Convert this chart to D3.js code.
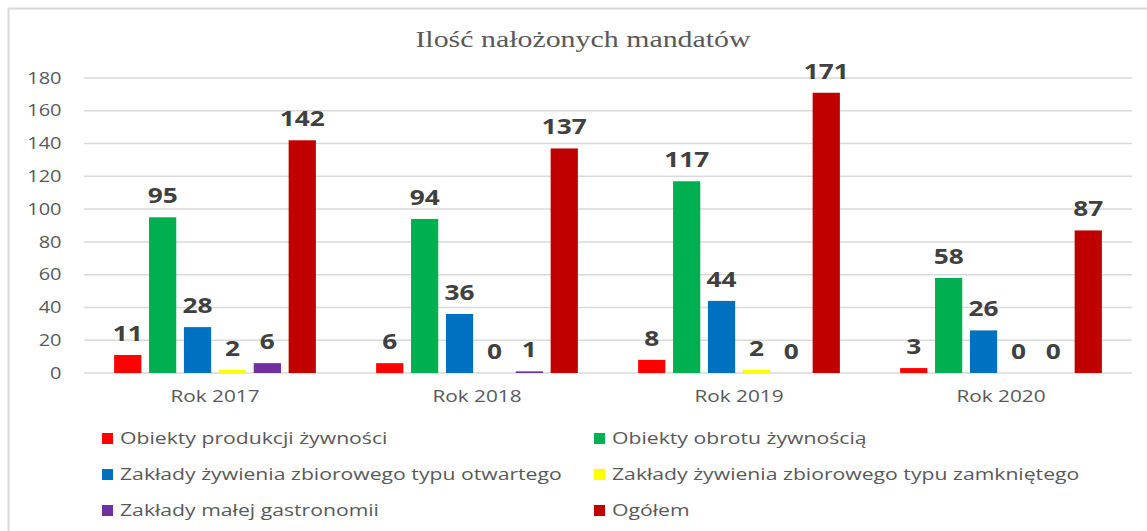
<!DOCTYPE html>
<html>
<head>
<meta charset="utf-8">
<script src="https://cdn.jsdelivr.net/npm/d3@7"></script>
<style>
  body { margin: 0; background: #fff; }
  .tick text { font-family: "Open Sans", sans-serif; font-size: 16px; fill: #595959; }
</style>
</head>
<body>
<div id="chart"></div>
<script>
const years = ['Rok 2017', 'Rok 2018', 'Rok 2019', 'Rok 2020']
const seriesNames = [
  'Obiekty produkcji żywności',
  'Obiekty obrotu żywnością',
  'Zakłady żywienia zbiorowego typu otwartego',
  'Zakłady żywienia zbiorowego typu zamkniętego',
  'Zakłady małej gastronomii',
  'Ogółem',
]
const colors = ['#ff0000', '#00b050', '#0070c0', '#ffff00', '#7030a0', '#c00000']
const produkcja = [11, 6, 8, 3]
const obrot = [95, 94, 117, 58]
const otwarte = [28, 36, 44, 26]
const zamkniete = [2, 0, 2, 0]
const gastronomia = [6, 1, 0, 0]
const ogolem = [142, 137, 171, 87]
const yTicks = [0, 20, 40, 60, 80, 100, 120, 140, 160, 180]

const seriesValues = [produkcja, obrot, otwarte, zamkniete, gastronomia, ogolem]

const width = 1147
const height = 531
const margin = { top: 78, right: 15, bottom: 158, left: 84 }
const innerW = width - margin.left - margin.right
const innerH = height - margin.top - margin.bottom
// the source picture is stretched sideways, so text gets a horizontal scale
const stretch = 1.3

const svg = d3.select('#chart').append('svg').attr('width', width).attr('height', height)

// frame
svg.append('rect')
  .attr('x', 8.5).attr('y', 8.5)
  .attr('width', width).attr('height', height)
  .attr('fill', 'none').attr('stroke', '#d9d9d9').attr('stroke-width', 2)

svg.append('text')
  .attr('transform', `translate(583, 47) scale(${stretch}, 1)`)
  .attr('text-anchor', 'middle')
  .attr('font-family', '"Liberation Serif", serif')
  .attr('font-size', 23)
  .attr('fill', '#595959')
  .text('Ilość nałożonych mandatów')

const g = svg.append('g').attr('transform', `translate(${margin.left}, ${margin.top})`)

const x0 = d3.scaleBand().domain(years).range([0, innerW]).paddingInner(0.23).paddingOuter(0.115)
const x1 = d3.scaleBand().domain(seriesNames).range([0, x0.bandwidth()]).paddingInner(0.22)
const y = d3.scaleLinear().domain([0, 180]).range([innerH, 0])

// grid
g.append('g').selectAll('line').data(yTicks).join('line')
  .attr('x1', 0).attr('x2', innerW)
  .attr('y1', d => y(d)).attr('y2', d => y(d))
  .attr('stroke', '#d9d9d9').attr('stroke-width', 1.5)

const yAxis = g.append('g').call(d3.axisLeft(y).tickValues(yTicks).tickSize(0).tickPadding(18))
yAxis.select('.domain').remove()
yAxis.selectAll('.tick text').attr('transform', 'scale(1.25, 1)')

const xAxis = g.append('g').attr('transform', `translate(0, ${innerH})`)
  .call(d3.axisBottom(x0).tickSize(0).tickPadding(18))
xAxis.select('.domain').remove()
xAxis.selectAll('.tick text').attr('transform', `scale(${stretch}, 1)`)

const groups = g.selectAll('.year').data(years).join('g')
  .attr('class', 'year')
  .attr('transform', d => `translate(${x0(d)}, 0)`)

const cells = groups.selectAll('g').data((d, i) => seriesNames.map((s, j) => ({ s, j, v: seriesValues[j][i] }))).join('g')

cells.append('rect')
  .attr('x', d => x1(d.s))
  .attr('width', x1.bandwidth())
  .attr('y', d => y(d.v))
  .attr('height', d => innerH - y(d.v))
  .attr('fill', d => colors[d.j])

cells.append('text')
  .attr('transform', d => `translate(${x1(d.s) + x1.bandwidth() / 2}, ${y(d.v) - 14}) scale(1.25, 1)`)
  .attr('text-anchor', 'middle')
  .attr('font-family', '"Open Sans", sans-serif')
  .attr('font-weight', 'bold')
  .attr('font-size', 21)
  .attr('fill', '#404040')
  .text(d => d.v)

// legend
const legend = svg.append('g')
const legendItems = legend.selectAll('g').data(seriesNames).join('g')
  .attr('transform', (d, i) => `translate(${i % 2 === 0 ? 102 : 594}, ${438 + Math.floor(i / 2) * 36})`)

legendItems.append('rect')
  .attr('x', 0).attr('y', -5).attr('width', 11).attr('height', 11)
  .attr('fill', (d, i) => colors[i])

legendItems.append('text')
  .attr('transform', `translate(18, 6) scale(${stretch}, 1)`)
  .attr('font-family', '"Open Sans", sans-serif')
  .attr('font-size', 16.3)
  .attr('fill', '#595959')
  .text(d => d)
</script>
</body>
</html>
